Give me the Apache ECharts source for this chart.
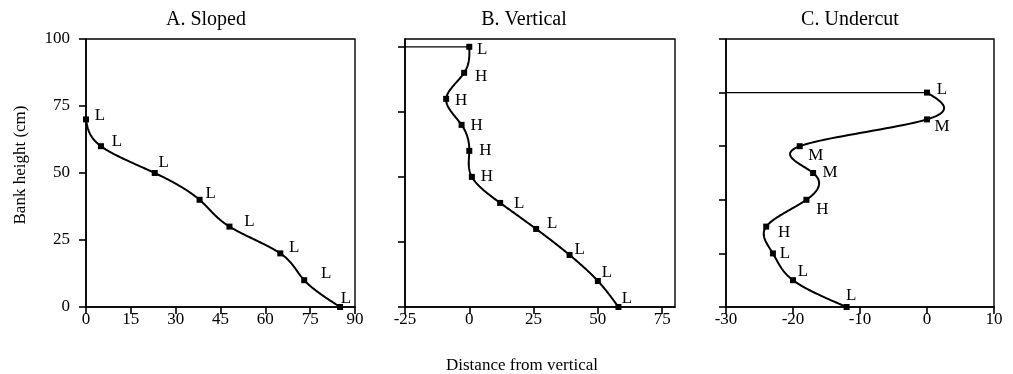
<!DOCTYPE html>
<html>
<head>
<meta charset="utf-8">
<script src="https://cdn.jsdelivr.net/npm/echarts@6/dist/echarts.min.js"></script>
<style>
  html, body { margin: 0; padding: 0; background: #fff; }
  #chart { width: 1013px; height: 374px; }
</style>
</head>
<body>
<div id="chart"></div>
<script>
// bank profiles: distance from vertical (x) against bank height in cm (y)
const slopedX = [0, 5, 23, 38, 48, 65, 73, 85];
const slopedY = [70, 60, 50, 40, 30, 20, 10, 0];
const slopedCls = ['L', 'L', 'L', 'L', 'L', 'L', 'L', 'L'];

const verticalX = [0, -2, -9, -3, 0, 1, 12, 26, 39, 50, 58];
const verticalY = [100, 90, 80, 70, 60, 50, 40, 30, 20, 10, 0];
const verticalCls = ['L', 'H', 'H', 'H', 'H', 'H', 'L', 'L', 'L', 'L', 'L'];

const undercutX = [0, 0, -19, -17, -18, -24, -23, -20, -12];
const undercutY = [80, 70, 60, 50, 40, 30, 20, 10, 0];
const undercutCls = ['L', 'M', 'M', 'M', 'H', 'H', 'L', 'L', 'L'];

// overhang ledge drawn from the left frame to the bank top
const ledgeBX = [-25, 0];
const ledgeBY = [100, 100];
const ledgeCX = [-30, 0];
const ledgeCY = [80, 80];

const titles = ['A. Sloped', 'B. Vertical', 'C. Undercut'];
const ticksBX = [-25, 0, 25, 50, 75];
const ticksBY = [0, 25, 50, 75, 100];

// label nudges (px) for the class letters
const offA = [[14, -4], [16, -5], [9, -10], [11, -6], [20, -5], [14, -6], [22, -7], [6, -8]];
const offB = [[13, 3], [17, 4], [15, 2], [15, 1], [16, 0], [15, 0], [19, 1], [16, -5], [10, -5], [9, -8], [8.5, -8]];
const offC = [[15, -3], [15, 7.5], [16, 9], [17, 0], [16, 10], [18, 6], [12, 0], [10, -9], [4.5, -11]];

const FONT = 'Liberation Serif';
const black = '#000';

// natural cubic spline second derivatives (unit parameter step)
function splineM(v) {
  const n = v.length;
  const M = new Array(n).fill(0);
  if (n < 3) return M;
  const b = [], d = [];
  for (let i = 1; i < n - 1; i++) {
    b.push(4);
    d.push(6 * (v[i + 1] - 2 * v[i] + v[i - 1]));
  }
  const m = b.length;
  for (let i = 1; i < m; i++) {
    const w = 1 / b[i - 1];
    b[i] -= w;
    d[i] -= w * d[i - 1];
  }
  const sol = new Array(m);
  sol[m - 1] = d[m - 1] / b[m - 1];
  for (let i = m - 2; i >= 0; i--) sol[i] = (d[i] - sol[i + 1]) / b[i];
  for (let i = 0; i < m; i++) M[i + 1] = sol[i];
  return M;
}

// smooth curve through the pixel positions of the measured points
function curvePoints(px) {
  const xs = px.map(p => p[0]), ys = px.map(p => p[1]);
  const Mx = splineM(xs), My = splineM(ys);
  const out = [px[0]];
  const steps = 24;
  for (let i = 0; i < px.length - 1; i++) {
    for (let k = 1; k <= steps; k++) {
      const B = k / steps, A = 1 - B;
      const f = (v, M) => A * v[i] + B * v[i + 1] + ((A * A * A - A) * M[i] + (B * B * B - B) * M[i + 1]) / 6;
      out.push([f(xs, Mx), f(ys, My)]);
    }
  }
  return out;
}

function curve(idx, xs, ys) {
  return {
    type: 'custom',
    xAxisIndex: idx,
    yAxisIndex: idx,
    data: xs.map((x, i) => [x, ys[i]]),
    z: 2,
    silent: true,
    animation: false,
    renderItem: function (params, api) {
      if (params.dataIndex !== 0) return null;
      const px = xs.map((x, i) => api.coord([x, ys[i]]));
      return {
        type: 'polyline',
        shape: { points: curvePoints(px) },
        style: { stroke: black, lineWidth: 2, fill: null }
      };
    }
  };
}

function markers(idx, xs, ys, cls, offs) {
  return {
    type: 'scatter',
    xAxisIndex: idx,
    yAxisIndex: idx,
    data: xs.map((x, i) => ({
      value: [x, ys[i]],
      label: { formatter: cls[i], offset: offs[i] }
    })),
    symbol: 'rect',
    symbolSize: 6,
    z: 3,
    itemStyle: { color: black, opacity: 1 },
    label: {
      show: true,
      position: 'inside',
      color: black,
      fontFamily: FONT,
      fontSize: 17
    },
    animation: false
  };
}

function ledge(idx, xs, ys) {
  return {
    type: 'line',
    xAxisIndex: idx,
    yAxisIndex: idx,
    data: xs.map((x, i) => [x, ys[i]]),
    symbol: 'none',
    z: 2,
    lineStyle: { color: black, width: 1.2 },
    animation: false
  };
}

const axisLine = { show: true, onZero: false, lineStyle: { color: black, width: 1.6 } };
const axisTick = { show: true, length: 7, lineStyle: { color: black, width: 1.6 } };
const labelStyle = { color: black, fontFamily: FONT, fontSize: 17 };

function xAxis(idx, min, max, interval, extra) {
  return Object.assign({
    type: 'value', gridIndex: idx, min: min, max: max, interval: interval,
    axisLine: axisLine, axisTick: axisTick, splitLine: { show: false },
    axisLabel: Object.assign({ margin: 4 }, labelStyle)
  }, extra || {});
}

function yAxis(idx, min, max, interval, showLabel, extra) {
  return Object.assign({
    type: 'value', gridIndex: idx, min: min, max: max, interval: interval,
    axisLine: axisLine, axisTick: axisTick, splitLine: { show: false },
    axisLabel: Object.assign({ show: showLabel, margin: 16 }, labelStyle)
  }, extra || {});
}

const gridStyle = { show: true, borderColor: black, borderWidth: 1.4, backgroundColor: 'transparent' };

const chart = echarts.init(document.getElementById('chart'), null, { renderer: 'canvas' });

chart.setOption({
  backgroundColor: '#fff',
  animation: false,
  grid: [
    Object.assign({ left: 86, top: 39, width: 269, height: 268 }, gridStyle),
    Object.assign({ left: 405, top: 39, width: 270, height: 268 }, gridStyle),
    Object.assign({ left: 726, top: 39, width: 268, height: 268 }, gridStyle)
  ],
  xAxis: [
    xAxis(0, 0, 90, 15),
    xAxis(1, -25, 80, 25, {
      axisTick: Object.assign({}, axisTick, { customValues: ticksBX }),
      axisLabel: Object.assign({ margin: 4, customValues: ticksBX }, labelStyle)
    }),
    xAxis(2, -30, 10, 10)
  ],
  yAxis: [
    yAxis(0, 0, 100, 25, true),
    yAxis(1, 0, 103, 25, false, {
      axisTick: Object.assign({}, axisTick, { customValues: ticksBY })
    }),
    yAxis(2, 0, 100, 20, false)
  ],
  graphic: [
    { type: 'text', x: 206, y: 20, style: { text: titles[0], font: '20px "Liberation Serif"', fill: black, align: 'center', verticalAlign: 'middle' } },
    { type: 'text', x: 524, y: 20, style: { text: titles[1], font: '20px "Liberation Serif"', fill: black, align: 'center', verticalAlign: 'middle' } },
    { type: 'text', x: 850, y: 20, style: { text: titles[2], font: '20px "Liberation Serif"', fill: black, align: 'center', verticalAlign: 'middle' } },
    { type: 'text', x: 21, y: 165, rotation: Math.PI / 2, style: { text: 'Bank height (cm)', font: '17px "Liberation Serif"', fill: black, align: 'center', verticalAlign: 'middle' } },
    { type: 'text', x: 522, y: 366, style: { text: 'Distance from vertical', font: '17px "Liberation Serif"', fill: black, align: 'center', verticalAlign: 'middle' } }
  ],
  series: [
    curve(0, slopedX, slopedY),
    markers(0, slopedX, slopedY, slopedCls, offA),
    ledge(1, ledgeBX, ledgeBY),
    curve(1, verticalX, verticalY),
    markers(1, verticalX, verticalY, verticalCls, offB),
    ledge(2, ledgeCX, ledgeCY),
    curve(2, undercutX, undercutY),
    markers(2, undercutX, undercutY, undercutCls, offC)
  ]
});
</script>
</body>
</html>
